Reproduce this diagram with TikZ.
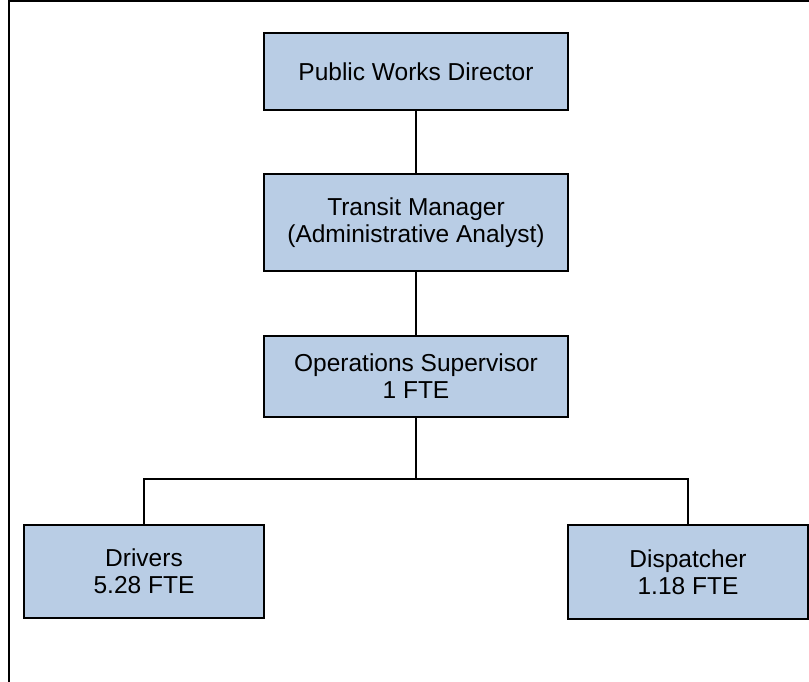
\documentclass[tikz,border=0pt]{standalone}
\usepackage{fontspec}
\setmainfont{Liberation Sans}
\definecolor{boxfill}{HTML}{B9CDE5}
\begin{document}
\begin{tikzpicture}[x=1pt,y=-1pt,
  orgbox/.style={draw=black, line width=2pt, fill=boxfill, anchor=north west, inner sep=0pt,
    align=center, font=\fontsize{24.5}{27}\selectfont},
  link/.style={draw=black, line width=2pt}]
\useasboundingbox (0,0) rectangle (809,681);
\draw[line width=2.5pt] (9,690) -- (9,1) -- (820,1);
\node[orgbox, minimum width=304pt, minimum height=77pt] (pwd) at (263,32) {Public Works Director};
\node[orgbox, minimum width=304pt, minimum height=97pt] (tm) at (263,173) {Transit Manager\\(Administrative Analyst)};
\node[orgbox, minimum width=304pt, minimum height=81pt] (ops) at (263,335) {Operations Supervisor\\1 FTE};
\node[orgbox, minimum width=240pt, minimum height=93pt] (drv) at (23,524) {Drivers\\5.28 FTE};
\node[orgbox, minimum width=240pt, minimum height=94pt] (dsp) at (567,524) {Dispatcher\\1.18 FTE};
\coordinate (bus) at (415,479);
\draw[link] (pwd.south) -- (tm.north);
\draw[link] (tm.south) -- (ops.north);
\draw[link] (ops.south) -- (ops.south |- bus);
\draw[link] (drv.north) |- (bus) -| (dsp.north);
\end{tikzpicture}
\end{document}
